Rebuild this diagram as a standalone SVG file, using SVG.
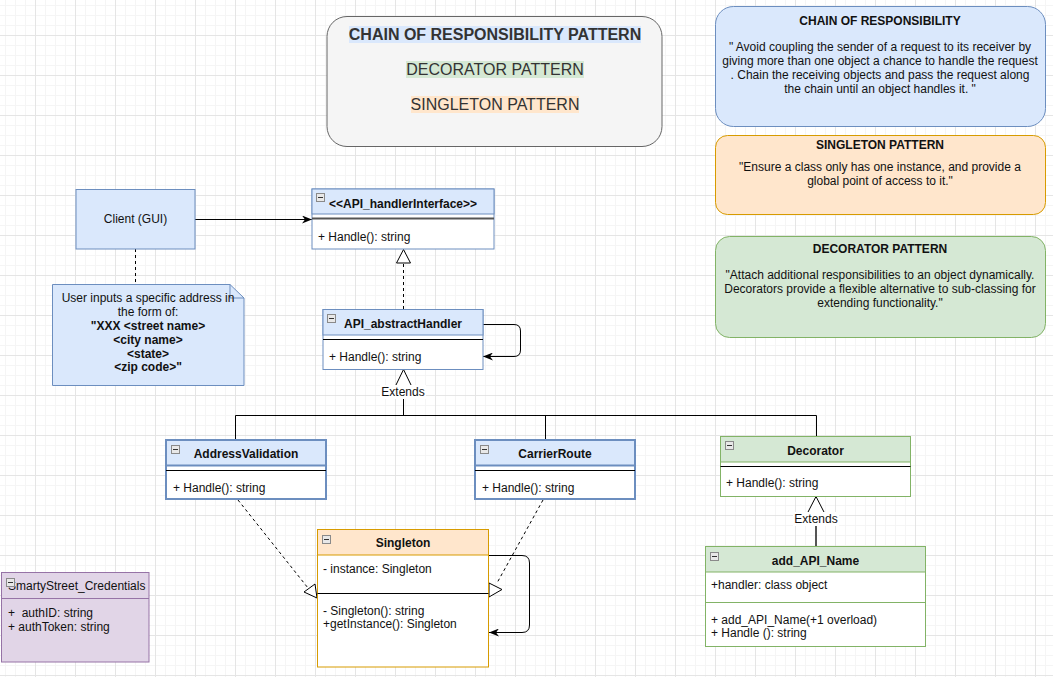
<svg xmlns="http://www.w3.org/2000/svg" width="1053" height="677" viewBox="0 0 1053 677">
<defs>
<pattern id="grid" x="5" y="5" width="40" height="40" patternUnits="userSpaceOnUse">
<path d="M0.5,0 V40 M10.5,0 V40 M20.5,0 V40 M0,0.5 H40 M0,10.5 H40 M0,20.5 H40" stroke="#f5f5f5" stroke-width="1" fill="none"/>
<path d="M30.5,0 V40 M0,30.5 H40" stroke="#e5e5e5" stroke-width="1" fill="none"/>
</pattern>
<marker id="classic" viewBox="0 0 10 8" refX="10" refY="4" markerWidth="10" markerHeight="8" markerUnits="userSpaceOnUse" orient="auto">
<path d="M0,0 L10,4 L0,8 L3,4 Z" fill="#000"/>
</marker>
</defs>
<style>
text{font-family:"Liberation Sans",Arial,Helvetica,sans-serif;font-size:12px;fill:#111;white-space:pre;}
.b{font-weight:bold;}
.c{text-anchor:middle;}
.big{font-size:16px;fill:#333;}
.blue{fill:#dae8fc;stroke:#6c8ebf;}
.green{fill:#d5e8d4;stroke:#82b366;}
.orange{fill:#ffe6cc;stroke:#d79b00;}
.purple{fill:#e1d5e7;stroke:#9673a6;}
.sep{stroke:#000;stroke-width:1;}
.edge{fill:none;stroke:#000;stroke-width:1;}
.dash{fill:none;stroke:#000;stroke-width:1;stroke-dasharray:3,3;}
.icon{fill:#e8e8e8;stroke:#8a8a8a;stroke-width:1;}
.minus{stroke:#333;stroke-width:1;}
</style>
<rect width="1053" height="677" fill="#ffffff"/>
<rect width="1053" height="677" fill="url(#grid)"/>

<g id="title-box">
<rect x="327" y="16.5" width="335" height="130" rx="20" fill="#f5f5f5" stroke="#666666"/>
<rect x="349" y="26" width="292" height="17" fill="#dae8fc"/>
<rect x="406" y="61" width="178" height="17" fill="#d5e8d4"/>
<rect x="411" y="96" width="168" height="17" fill="#ffe6cc"/>
<text x="495" y="40" class="c big b">CHAIN OF RESPONSIBILITY PATTERN</text>
<text x="495" y="75" class="c big">DECORATOR PATTERN</text>
<text x="495" y="110" class="c big">SINGLETON PATTERN</text>
</g>

<g id="note-cor">
<rect x="715.5" y="6.5" width="330" height="120" rx="18" class="blue"/>
<text x="880" y="25" class="c b">CHAIN OF RESPONSIBILITY</text>
<text x="880" y="51" class="c">" Avoid coupling the sender of a request to its receiver by</text>
<text x="880" y="65" class="c">giving more than one object a chance to handle the request</text>
<text x="880" y="79" class="c">. Chain the receiving objects and pass the request along</text>
<text x="880" y="93" class="c">the chain until an object handles it. "</text>
</g>

<g id="note-singleton">
<rect x="715.5" y="135.5" width="330" height="79" rx="12" class="orange"/>
<text x="880" y="149" class="c b">SINGLETON PATTERN</text>
<text x="880" y="171" class="c">"Ensure a class only has one instance, and provide a</text>
<text x="880" y="185" class="c">global point of access to it."</text>
</g>

<g id="note-decorator">
<rect x="715.5" y="236.5" width="330" height="101" rx="14" class="green"/>
<text x="880" y="253" class="c b">DECORATOR PATTERN</text>
<text x="880" y="279" class="c">"Attach additional responsibilities to an object dynamically.</text>
<text x="880" y="293" class="c">Decorators provide a flexible alternative to sub-classing for</text>
<text x="880" y="307" class="c">extending functionality."</text>
</g>

<g id="connectors">
<path d="M195,219.5 H312" class="edge" marker-end="url(#classic)"/>
<path d="M135.5,249 V284" class="dash"/>
<path d="M403.5,309 V263" class="dash"/>
<polygon points="403.5,249.5 396.5,263 410.5,263" fill="#fff" stroke="#000"/>
<path d="M483,324.5 H514 Q520.5,324.5 520.5,331 V350 Q520.5,356.5 514,356.5 H483" class="edge" marker-end="url(#classic)"/>
<polygon points="403.5,369.5 395,387 412,387" fill="#fff" stroke="#000"/>
<rect x="380" y="385" width="46" height="14" fill="#fff"/>
<text x="403" y="396" class="c">Extends</text>
<path d="M403.5,399 V415.5 M235.5,415.5 H816.5 M235.5,415.5 V440 M545.5,415.5 V440 M816.5,415.5 V436" class="edge"/>
<path d="M238,500 L308,588" class="dash"/>
<polygon points="304,592 315,584 317,598" fill="#fff" stroke="#000"/>
<path d="M543,500 L497,583" class="dash"/>
<polygon points="489,583 489,597 502,589.5" fill="#fff" stroke="#000"/>
<path d="M489,555.5 H522 Q529.5,555.5 529.5,563 V625 Q529.5,632.5 522,632.5 H489" class="edge" marker-end="url(#classic)"/>
<polygon points="816,496.5 807,514 825,514" fill="#fff" stroke="#000"/>
<rect x="793" y="512" width="46" height="14" fill="#fff"/>
<text x="816" y="523" class="c">Extends</text>
<path d="M816,526 V546" fill="none" stroke="#555" stroke-width="2"/>
</g>

<g id="client">
<rect x="76" y="189.5" width="119" height="59.5" class="blue"/>
<text x="135.5" y="223" class="c">Client (GUI)</text>
</g>

<g id="client-note">
<path d="M52.5,284.5 H230 L244,298 V385.5 H52.5 Z" class="blue"/>
<path d="M230,284.5 V298 H244" fill="none" stroke="#6c8ebf"/>
<text x="148" y="302" class="c">User inputs a specific address in</text>
<text x="148" y="316" class="c">the form of:</text>
<text x="148" y="330" class="c b">"XXX &lt;street name&gt;</text>
<text x="148" y="344" class="c b">&lt;city name&gt;</text>
<text x="148" y="358" class="c b">&lt;state&gt;</text>
<text x="148" y="371" class="c b">&lt;zip code&gt;"</text>
</g>

<g id="api-handler-interface">
<rect x="312" y="189" width="182" height="60" fill="#fff" stroke="#6c8ebf"/>
<rect x="312" y="189" width="182" height="25" class="blue"/>
<line x1="312" y1="218.5" x2="494" y2="218.5" stroke="#555" stroke-width="2"/>
<rect x="316.5" y="193.5" width="8" height="8" class="icon"/><line x1="318" y1="197.5" x2="323" y2="197.5" class="minus"/>
<text x="403" y="208" class="c b">&lt;&lt;API_handlerInterface&gt;&gt;</text>
<text x="318" y="241">+ Handle(): string</text>
</g>

<g id="api-abstract-handler">
<rect x="323" y="309.5" width="160" height="60" fill="#fff" stroke="#6c8ebf"/>
<rect x="323" y="309.5" width="160" height="25.5" class="blue"/>
<line x1="323" y1="339.5" x2="483" y2="339.5" class="sep"/>
<rect x="327.5" y="314.5" width="8" height="8" class="icon"/><line x1="329" y1="318.5" x2="334" y2="318.5" class="minus"/>
<text x="403" y="328" class="c b">API_abstractHandler</text>
<text x="329" y="361">+ Handle(): string</text>
</g>

<g id="address-validation">
<rect x="166" y="440" width="160" height="59" fill="#fff" stroke="#6c8ebf" stroke-width="2"/>
<rect x="166" y="440" width="160" height="25.5" fill="#dae8fc" stroke="#6c8ebf" stroke-width="2"/>
<line x1="166" y1="470.5" x2="326" y2="470.5" class="sep"/>
<rect x="171.5" y="445.5" width="8" height="8" class="icon"/><line x1="173" y1="449.5" x2="178" y2="449.5" class="minus"/>
<text x="246" y="458" class="c b">AddressValidation</text>
<text x="173" y="492">+ Handle(): string</text>
</g>

<g id="carrier-route">
<rect x="475" y="440" width="160" height="59" fill="#fff" stroke="#6c8ebf" stroke-width="2"/>
<rect x="475" y="440" width="160" height="25.5" fill="#dae8fc" stroke="#6c8ebf" stroke-width="2"/>
<line x1="475" y1="470.5" x2="635" y2="470.5" class="sep"/>
<rect x="480.5" y="445.5" width="8" height="8" class="icon"/><line x1="482" y1="449.5" x2="487" y2="449.5" class="minus"/>
<text x="555" y="458" class="c b">CarrierRoute</text>
<text x="482" y="492">+ Handle(): string</text>
</g>

<g id="decorator">
<rect x="720.5" y="436.5" width="190" height="60" fill="#fff" stroke="#82b366"/>
<rect x="720.5" y="436.5" width="190" height="25.5" class="green"/>
<line x1="720.5" y1="466.5" x2="910.5" y2="466.5" class="sep"/>
<rect x="725.5" y="441.5" width="8" height="8" class="icon"/><line x1="727" y1="445.5" x2="732" y2="445.5" class="minus"/>
<text x="815.5" y="455" class="c b">Decorator</text>
<text x="726" y="487">+ Handle(): string</text>
</g>

<g id="add-api-name">
<rect x="705.5" y="546.5" width="220" height="100" fill="#fff" stroke="#82b366"/>
<rect x="705.5" y="546.5" width="220" height="25.5" class="green"/>
<line x1="705.5" y1="602.5" x2="925.5" y2="602.5" stroke="#82b366"/>
<rect x="710.5" y="552.5" width="8" height="8" class="icon"/><line x1="712" y1="556.5" x2="717" y2="556.5" class="minus"/>
<text x="815.5" y="565" class="c b">add_API_Name</text>
<text x="711" y="589">+handler: class object</text>
<text x="711" y="624">+ add_API_Name(+1 overload)</text>
<text x="711" y="637">+ Handle (): string</text>
</g>

<g id="singleton">
<rect x="317.5" y="529.5" width="171" height="137.5" fill="#fff" stroke="#d79b00"/>
<rect x="317.5" y="529.5" width="171" height="25.5" class="orange"/>
<line x1="317.5" y1="593.5" x2="488.5" y2="593.5" class="sep"/>
<rect x="322.5" y="535.5" width="8" height="8" class="icon"/><line x1="324" y1="539.5" x2="329" y2="539.5" class="minus"/>
<text x="403" y="547" class="c b">Singleton</text>
<text x="323" y="573">- instance: Singleton</text>
<text x="323" y="615">- Singleton(): string</text>
<text x="323" y="628">+getInstance(): Singleton</text>
</g>

<g id="smartystreet-credentials">
<rect x="1.5" y="572.5" width="147.5" height="89.5" class="purple"/>
<line x1="1.5" y1="598.5" x2="149" y2="598.5" stroke="#9673a6"/>
<text x="8" y="590">SmartyStreet_Credentials</text>
<rect x="6.5" y="578.5" width="8" height="8" class="icon"/><line x1="8" y1="582.5" x2="13" y2="582.5" class="minus"/>
<text x="8" y="617">+  authID: string</text>
<text x="8" y="631">+ authToken: string</text>
</g>
</svg>
